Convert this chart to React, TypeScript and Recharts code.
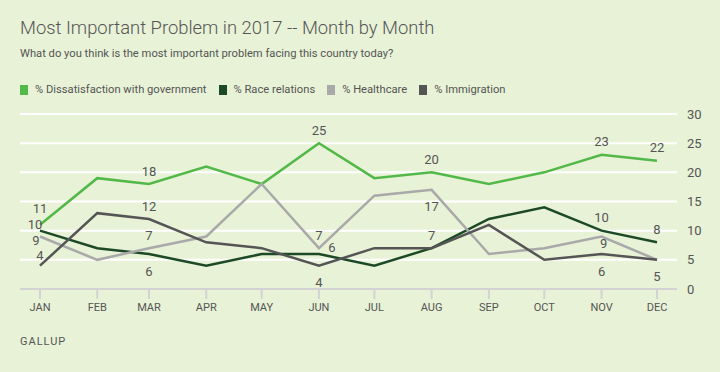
import React from "react";
import {
  LineChart,
  Line,
  XAxis,
  YAxis,
  CartesianGrid,
  LabelList,
} from "recharts";

const months = ["JAN", "FEB", "MAR", "APR", "MAY", "JUN", "JUL", "AUG", "SEP", "OCT", "NOV", "DEC"];
// day of the year for each monthly reading
const monthDays = [0, 31, 59, 90, 120, 151, 181, 212, 243, 273, 304, 334];

const dissatisfaction = [11, 19, 18, 21, 18, 25, 19, 20, 18, 20, 23, 22];
const raceRelations = [10, 7, 6, 4, 6, 6, 4, 7, 12, 14, 10, 8];
const healthcare = [9, 5, 7, 9, 18, 7, 16, 17, 6, 7, 9, 5];
const immigration = [4, 13, 12, 8, 7, 4, 7, 7, 11, 5, 6, 5];

const yTicks = [0, 5, 10, 15, 20, 25, 30];

const data = months.map((m, i) => ({
  day: monthDays[i],
  month: m,
  dissatisfaction: dissatisfaction[i],
  race: raceRelations[i],
  healthcare: healthcare[i],
  immigration: immigration[i],
}));

// which points get a value label, and where (dx, dy from the point)
const ABOVE: [number, number] = [0, -13];
const BELOW: [number, number] = [0, 17];
const labelSpots: Record<string, Record<number, [number, number]>> = {
  dissatisfaction: { 0: [0, -16], 2: ABOVE, 5: ABOVE, 7: ABOVE, 10: ABOVE, 11: ABOVE },
  race: { 0: [-5, -6.5], 2: BELOW, 5: [13, -7], 7: ABOVE, 10: ABOVE, 11: ABOVE },
  healthcare: { 0: [-4, 3.5], 2: ABOVE, 5: ABOVE, 7: BELOW, 10: [2, 7] },
  immigration: { 0: [0, -10], 2: ABOVE, 5: BELOW, 10: BELOW, 11: BELOW },
};

const series = [
  { key: "dissatisfaction", name: "% Dissatisfaction with government", color: "#52b848" },
  { key: "race", name: "% Race relations", color: "#1d4a26" },
  { key: "healthcare", name: "% Healthcare", color: "#a9a9a9" },
  { key: "immigration", name: "% Immigration", color: "#555555" },
];

const font = "Roboto, 'Noto Sans', sans-serif";
const textColor = "#555555";

const makeLabel = (spots: Record<number, [number, number]>) => (props: any) => {
  const off = spots[props.index];
  if (!off) return null;
  return (
    <text
      x={props.x + off[0]}
      y={props.y + off[1]}
      textAnchor="middle"
      dominantBaseline="central"
      fontSize={13}
      fontFamily={font}
      fill={textColor}
    >
      {props.value}
    </text>
  );
};

export default function App() {
  return (
    <div
      style={{
        position: "absolute",
        left: 0,
        top: 0,
        width: 720,
        height: 372,
        background: "#e8f2d7",
        fontFamily: font,
        color: textColor,
        overflow: "hidden",
      }}
    >
      <div style={{ position: "absolute", left: 20, top: 17, fontSize: 18.4, fontWeight: 300, whiteSpace: "nowrap" }}>
        Most Important Problem in 2017 -- Month by Month
      </div>
      <div style={{ position: "absolute", left: 20, top: 47, fontSize: 11.2, whiteSpace: "nowrap" }}>
        What do you think is the most important problem facing this country today?
      </div>
      <div style={{ position: "absolute", left: 20, top: 83, display: "flex", fontSize: 11.2, whiteSpace: "nowrap" }}>
        {series.map((s) => (
          <div key={s.key} style={{ display: "flex", alignItems: "center", marginRight: 12 }}>
            <span style={{ width: 8, height: 10, background: s.color, display: "inline-block", marginRight: 7 }} />
            {s.name}
          </div>
        ))}
      </div>
      <div style={{ position: "absolute", left: 20, top: 335, fontSize: 11, letterSpacing: 1 }}>GALLUP</div>

      <div style={{ position: "absolute", left: 0, top: 0 }}>
        <LineChart width={720} height={372} data={data} margin={{ top: 114, right: 0, bottom: 53, left: 20 }}>
          <CartesianGrid vertical={false} stroke="#ffffff" strokeWidth={2} />
          <XAxis
            dataKey="day"
            type="number"
            domain={[0, 334]}
            ticks={monthDays}
            tickFormatter={(v: number) => months[monthDays.indexOf(v)]}
            padding={{ left: 20, right: 20 }}
            height={30}
            stroke="#d3d3d3"
            strokeWidth={2}
            tickSize={10}
            tickMargin={4}
            tick={{ fill: textColor, fontSize: 11, fontFamily: font }}
          />
          <YAxis
            orientation="right"
            width={43}
            domain={[0, 30]}
            ticks={yTicks}
            axisLine={false}
            tickLine={false}
            tickSize={0}
            tickMargin={10}
            tick={{ fill: textColor, fontSize: 13, fontFamily: font, textAnchor: "start" }}
          />
          {series.map((s) => (
            <Line
              key={s.key}
              type="linear"
              dataKey={s.key}
              stroke={s.color}
              strokeWidth={2.5}
              dot={false}
              activeDot={false}
              isAnimationActive={false}
            >
              <LabelList dataKey={s.key} content={makeLabel(labelSpots[s.key])} />
            </Line>
          ))}
        </LineChart>
      </div>
    </div>
  );
}
